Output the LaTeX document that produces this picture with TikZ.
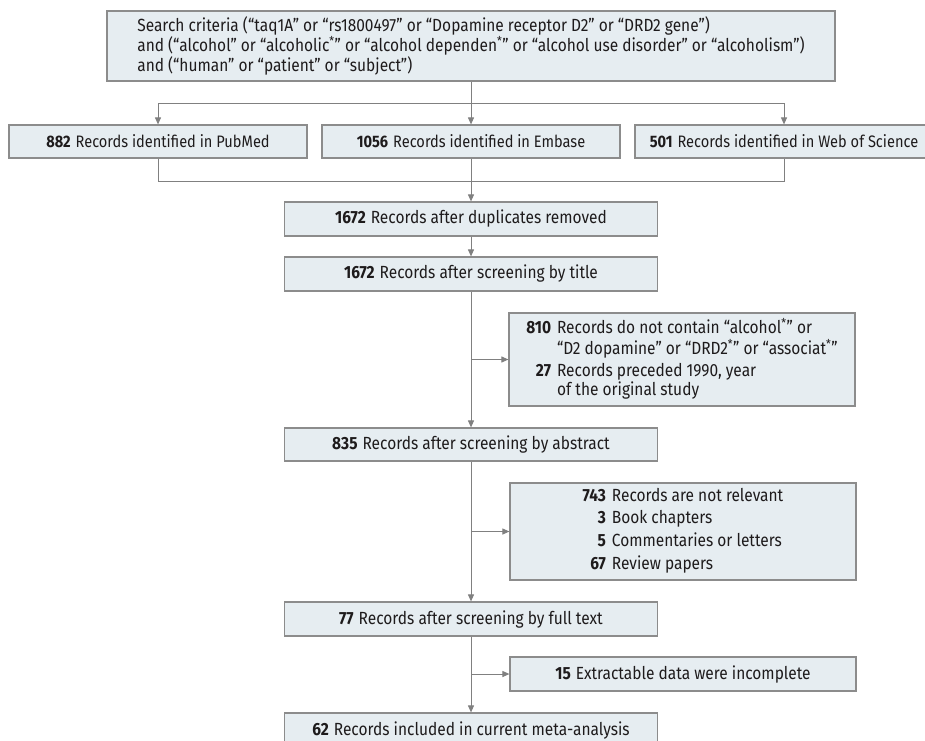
\documentclass[tikz,border=0pt]{standalone}
\usepackage{fontspec}
\setmainfont{Fira Sans}[FakeStretch=0.88]
\usetikzlibrary{arrows.meta}
\definecolor{boxfill}{RGB}{230,237,241}
\definecolor{boxline}{RGB}{140,140,140}
\definecolor{arrc}{RGB}{128,128,128}
\definecolor{txt}{RGB}{30,27,28}
\newcommand{\rnum}[1]{\textbf{#1}\hspace{5pt}}
\newcommand{\sast}{\textsuperscript{*}}
\begin{document}
\begin{tikzpicture}[x=1pt,y=-1pt,
  box/.style={draw=boxline, fill=boxfill, line width=1.2pt, inner sep=0pt,
    text=txt, font=\fontsize{17.6}{17.8}\selectfont, align=center},
  mainbox/.style={box, minimum width=373pt, minimum height=34pt},
  srcbox/.style={box, minimum width=298pt, minimum height=33pt, font=\fontsize{16.6}{17.5}\selectfont},
  sidebox/.style={box, minimum width=346pt},
  conn/.style={draw=arrc, line width=1pt},
  arrowc/.style={conn, -{Triangle[length=7pt,width=6pt]}}]
\clip (0,0) rectangle (925,740);
\fill[white] (0,0) rectangle (925,740);

\node[box, minimum width=728pt, minimum height=70pt, align=left] (top) at (471,46)
 {Search criteria (“taq1A” or “rs1800497” or “Dopamine receptor D2” or “DRD2 gene”)\\
  and (“alcohol” or “alcoholic\sast” or “alcohol dependen\sast” or “alcohol use disorder” or “alcoholism”)\\
  and (“human” or “patient” or “subject”)};

\node[srcbox] (pub) at (158,141.5) {\rnum{882}Records identified in PubMed};
\node[srcbox] (emb) at (471,141.5) {\rnum{1056}Records identified in Embase};
\node[srcbox] (wos) at (784,141.5) {\rnum{501}Records identified in Web of Science};

\node[mainbox] (dup) at (471,219) {\rnum{1672}Records after duplicates removed};
\node[mainbox] (title) at (471,274) {\rnum{1672}Records after screening by title};

\node[sidebox, minimum height=93pt] (side1) at (682,359.5)
 {\begin{tabular}{@{}r@{\hspace{6pt}}l@{}}
  \textbf{810} & Records do not contain “alcohol\sast” or\\
   & “D2 dopamine” or “DRD2\sast” or “associat\sast”\\[3pt]
  \textbf{27} & Records preceded 1990, year\\
   & of the original study
  \end{tabular}};

\node[mainbox, minimum height=33pt] (abs) at (471,444.5) {\rnum{835}Records after screening by abstract};

\node[sidebox, minimum height=97pt] (side2) at (683,531.5)
 {\begin{tabular}{@{}r@{\hspace{6pt}}l@{}}
  \textbf{743} & Records are not relevant\\[4pt]
  \textbf{3} & Book chapters\\[4pt]
  \textbf{5} & Commentaries or letters\\[4pt]
  \textbf{67} & Review papers
  \end{tabular}};

\node[mainbox] (full) at (471,619) {\rnum{77}Records after screening by full text};
\node[sidebox, minimum height=34pt] (side3) at (683,674) {\rnum{15}Extractable data were incomplete};
\node[mainbox] (incl) at (471,730) {\rnum{62}Records included in current meta-analysis};

% connectors
\path (top.south) ++(0,22) coordinate (split);
\draw[arrowc] (top.south) -- (emb.north);
\draw[arrowc] (split) -| (pub.north);
\draw[arrowc] (split) -| (wos.north);

\path (emb.south) ++(0,23) coordinate (merge);
\draw[conn] (pub.south) -- (pub.south |- merge) -- (wos.south |- merge) -- (wos.south);
\draw[conn] (emb.south) -- (merge);
\draw[arrowc] (merge) -- (dup.north);

\draw[arrowc] (dup.south) -- (title.north);
\draw[arrowc] (title.south) -- (abs.north);
\draw[arrowc] (title.south |- side1.west) -- (side1.west);
\draw[arrowc] (abs.south) -- (full.north);
\draw[arrowc] (abs.south |- side2.west) -- (side2.west);
\draw[arrowc] (full.south) -- (incl.north);
\draw[arrowc] (full.south |- side3.west) -- (side3.west);
\end{tikzpicture}
\end{document}
